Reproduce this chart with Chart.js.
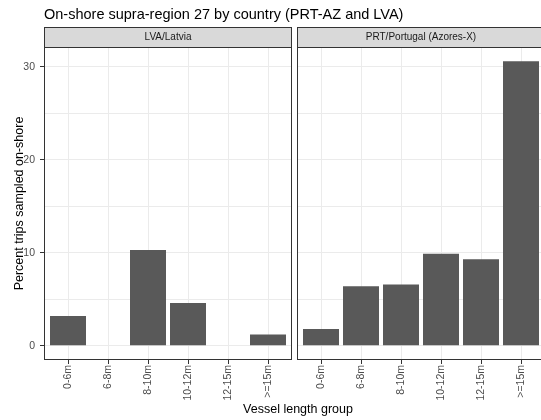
<!DOCTYPE html>
<html>
<head>
<meta charset="utf-8">
<script src="https://cdn.jsdelivr.net/npm/chart.js@4.4.0/dist/chart.umd.min.js"></script>
<style>
    html, body { margin: 0; padding: 0; background: #ffffff; }
    #page { position: relative; width: 541px; height: 420px; overflow: hidden; }
    #chartLeft { position: absolute; left: 0; top: 0; }
    #chartRight { position: absolute; left: 294px; top: 0; }
</style>
</head>
<body>
<div id="page">
    <canvas id="chartLeft" width="541" height="420"></canvas>
    <canvas id="chartRight" width="260" height="420"></canvas>
</div>
<script>
const lengthGroups = ['0-6m', '6-8m', '8-10m', '10-12m', '12-15m', '>=15m'];
const lvaValues = [3.2, null, 10.3, 4.6, null, 1.2];
const prtValues = [1.8, 6.4, 6.6, 9.9, 9.3, 30.6];
const yTicks = [0, 10, 20, 30];
const facetLabels = ['LVA/Latvia', 'PRT/Portugal (Azores-X)'];
const mainTitle = 'On-shore supra-region 27 by country (PRT-AZ and LVA)';
const xTitle = 'Vessel length group';
const yTitle = 'Percent trips sampled on-shore';

const fontFamily = "'Liberation Sans', Arial, sans-serif";
const clear = 'rgba(0,0,0,0)';

// only whole positions are real categories
const isGroup = (v) => Number.isInteger(v) && v >= 1 && v <= lengthGroups.length;
const tickValue = (c) => c.tick ? c.tick.value : NaN;

// strip on top of each panel, panel border, and the shared titles
const facetDecor = {
    id: 'facetDecor',
    afterDraw: (chart, args, opts) => {
        const ctx = chart.ctx;
        const a = chart.chartArea;
        const w = a.right - a.left;
        ctx.save();
        ctx.fillStyle = '#D9D9D9';
        ctx.fillRect(a.left, a.top - 20, w, 20);
        ctx.strokeStyle = '#333333';
        ctx.lineWidth = 1;
        ctx.strokeRect(a.left + 0.5, a.top - 19.5, w - 1, 20);
        ctx.strokeRect(a.left + 0.5, a.top + 0.5, w - 1, a.bottom - a.top - 1);
        ctx.fillStyle = '#1A1A1A';
        ctx.font = '10px ' + fontFamily;
        ctx.textAlign = 'center';
        ctx.textBaseline = 'middle';
        ctx.fillText(opts.label, a.left + w / 2, a.top - 9.5);
        if (opts.titles) {
            ctx.fillStyle = '#000000';
            ctx.textAlign = 'left';
            ctx.textBaseline = 'alphabetic';
            ctx.font = '14.5px ' + fontFamily;
            ctx.fillText(mainTitle, a.left, 19);
            ctx.textAlign = 'center';
            ctx.font = '12.5px ' + fontFamily;
            ctx.fillText(xTitle, 298, 413);
        }
        ctx.restore();
    }
};

const makeOptions = (label, titles, padding, yWidth) =>
{
    return {
        responsive: false,
        animation: false,
        layout: { padding: padding },
        plugins: {
            legend: { display: false },
            tooltip: { enabled: false },
            facetDecor: { label: label, titles: titles }
        },
        scales: {
            x: {
                type: 'linear',
                min: 0.4,
                max: 6.6,
                offset: false,
                border: { display: false, color: '#333333' },
                grid: {
                    offset: false,
                    color: '#EBEBEB',
                    tickLength: 4,
                    tickColor: '#333333'
                },
                ticks: {
                    stepSize: 1,
                    includeBounds: false,
                    autoSkip: false,
                    minRotation: 90,
                    maxRotation: 90,
                    padding: 1,
                    color: '#4D4D4D',
                    font: { family: fontFamily, size: 10.5 },
                    callback: (v) => isGroup(v) ? lengthGroups[v - 1] : ''
                },
                afterBuildTicks: (s) => { s.ticks = s.ticks.filter((t) => isGroup(t.value)); },
                afterFit: (s) => { s.height = 60; }
            },
            y: {
                min: -1.53,
                max: 32.13,
                border: { display: false, color: '#333333' },
                grid: {
                    color: '#EBEBEB',
                    drawTicks: yWidth > 0,
                    tickLength: 4,
                    tickColor: (c) => yTicks.includes(tickValue(c)) ? '#333333' : clear
                },
                ticks: {
                    display: yWidth > 0,
                    stepSize: 5,
                    includeBounds: false,
                    autoSkip: false,
                    padding: 5,
                    color: '#4D4D4D',
                    font: { family: fontFamily, size: 10.5 },
                    callback: (v) => yTicks.includes(v) ? v : ''
                },
                title: {
                    display: yWidth > 0,
                    text: yTitle,
                    color: '#000000',
                    font: { family: fontFamily, size: 12.5 },
                    padding: { top: 12, bottom: 0 }
                },
                afterFit: (s) => { s.width = yWidth; }
            }
        }
    };
}

const makeData = (values) =>
{
    return {
        datasets: [{
            data: values.map((v, i) => ({ x: i + 1, y: v })),
            backgroundColor: '#595959',
            borderWidth: 0,
            barPercentage: 0.9,
            categoryPercentage: 1.0
        }]
    };
}

const leftChart = new Chart(document.getElementById('chartLeft'), {
    type: 'bar',
    data: makeData(lvaValues),
    options: makeOptions(facetLabels[0], true, { top: 47, left: 0, right: 249, bottom: 0 }, 44),
    plugins: [facetDecor]
});

const rightChart = new Chart(document.getElementById('chartRight'), {
    type: 'bar',
    data: makeData(prtValues),
    options: makeOptions(facetLabels[1], false, { top: 47, left: 3, right: 9, bottom: 0 }, 0),
    plugins: [facetDecor]
});
</script>
</body>
</html>
